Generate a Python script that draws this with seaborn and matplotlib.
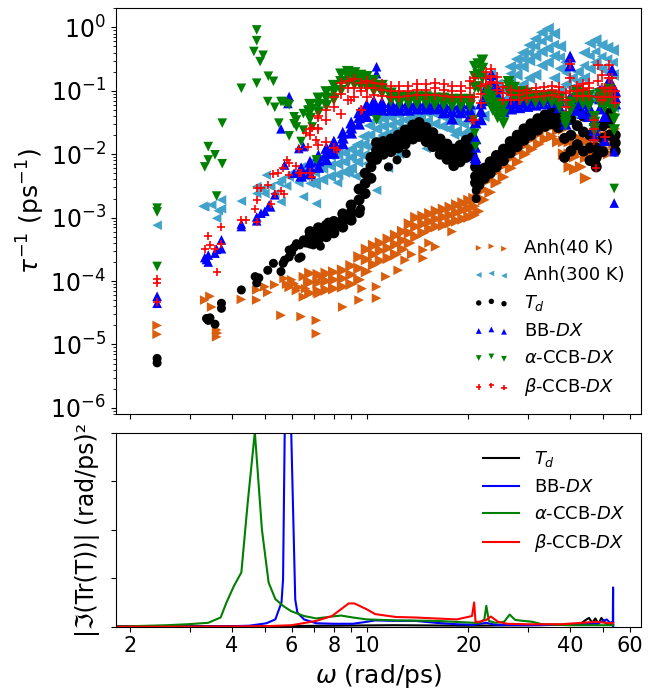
import warnings
import numpy as np
import pandas as pd
import matplotlib
matplotlib.use("Agg")
import matplotlib.pyplot as plt
import seaborn as sns
from matplotlib.ticker import FixedLocator, FixedFormatter, NullLocator, NullFormatter

warnings.filterwarnings("ignore")

# ---------------- top panel: scattering rates (log10 of tau^-1 in ps^-1) ----------------
# each series: a dense band (upper / middle / lower rows) + loose points

# Anh(40 K)
anh40_band_w = [6.8, 7.2, 7.6, 8.0, 8.5, 9.0, 9.5, 10.0, 10.5, 11.0, 11.6, 12.2, 12.8, 13.4, 14.0, 14.7,
                15.4, 16.1, 16.9, 17.7, 18.5, 19.3, 20.1, 20.8, 21.4, 22.2, 23.2, 24.2, 25.4, 26.7, 28.0,
                29.4, 30.8, 32.3, 33.8, 35.3, 36.8, 38.3, 39.8, 41.3, 43.0, 44.5, 46.2, 48.0, 50.0, 52.0, 54.0]
anh40_band_hi = [-3.88, -3.90, -3.88, -3.86, -3.83, -3.76, -3.62, -3.50, -3.44, -3.40, -3.34, -3.28, -3.22,
                 -3.10, -3.00, -2.98, -2.94, -2.90, -2.87, -2.84, -2.80, -2.77, -2.73, -2.70, -2.52, -2.40,
                 -2.22, -2.12, -2.02, -1.90, -1.80, -1.70, -1.62, -1.52, -1.46, -1.42, -1.46, -1.60, -1.80,
                 -1.84, -1.76, -1.80, -1.70, -1.62, -1.55, -1.50, -1.38]
anh40_band_mid = [-4.02, -4.02, -4.00, -3.98, -3.96, -3.90, -3.80, -3.66, -3.58, -3.52, -3.48, -3.42, -3.36,
                  -3.24, -3.14, -3.10, -3.06, -3.02, -2.99, -2.96, -2.92, -2.88, -2.85, -2.82, -2.70, -2.56,
                  -2.40, -2.28, -2.18, -2.06, -1.96, -1.86, -1.76, -1.68, -1.60, -1.56, -1.62, -1.80, -2.00,
                  -2.04, -1.96, -2.05, -1.85, -1.78, -1.70, -1.70, -1.60]
anh40_band_lo = [-4.19, -4.16, -4.14, -4.12, -4.09, -4.05, -3.98, -3.85, -3.74, -3.68, -3.64, -3.58, -3.50,
                 -3.40, -3.30, -3.24, -3.18, -3.14, -3.12, -3.08, -3.05, -3.02, -2.99, -2.96, -2.90, -2.72,
                 -2.60, -2.45, -2.36, -2.22, -2.12, -2.00, -1.92, -1.84, -1.76, -1.72, -1.80, -2.00, -2.20,
                 -2.24, -2.20, -2.38, -2.00, -1.96, -1.90, -1.99, -1.85]
anh40_w = [2.4, 2.4, 3.32, 3.44, 3.48, 3.60, 3.60, 3.62, 4.26, 4.73, 4.73, 5.0, 5.1, 5.35, 5.58, 5.7, 5.8,
           5.9, 6.0, 6.1, 6.2, 6.3, 6.4, 6.5, 6.5, 6.6, 6.7, 7.1, 7.1, 7.2, 7.4, 8.5, 9.5, 9.7, 10.7, 10.7,
           11.4, 12.4, 13.0, 13.6, 14.7, 14.7, 15.3, 16.0, 17.9]
anh40_r = [-4.70, -4.84, -4.30, -4.24, -4.41, -4.77, -4.88, -4.82, -4.29, -4.14, -4.30, -4.09, -4.18, -4.06,
           -4.54, -3.96, -4.05, -4.10, -3.98, -4.04, -4.15, -4.10, -4.56, -3.93, -4.25, -4.12, -4.00, -4.62,
           -4.83, -4.20, -3.93, -4.41, -4.30, -4.12, -4.27, -4.09, -3.93, -3.83, -3.67, -3.58, -3.64, -3.51,
           -3.40, -3.46, -3.22]

# Anh(300 K)
anh300_band_w = [7.0, 7.4, 7.8, 8.2, 8.6, 9.0, 9.4, 9.8, 10.2, 10.7, 11.2, 11.8, 12.4, 13.0, 13.7, 14.4,
                 15.1, 15.9, 16.7, 17.5, 18.4, 19.3, 20.2, 22.2, 23.2, 24.3, 25.4, 26.6, 27.8, 29.0, 30.3,
                 31.6, 33.0, 34.4, 35.9, 37.4, 38.9, 40.5, 42.2, 44.0, 45.8, 47.6, 49.6, 51.6, 53.6]
anh300_band_hi = [-2.10, -2.05, -2.02, -2.00, -1.98, -1.92, -1.85, -1.72, -1.55, -1.46, -1.44, -1.42, -1.38,
                  -1.34, -1.30, -1.26, -1.22, -1.22, -1.25, -1.28, -1.32, -1.36, -1.32, -0.95, -0.75, -0.90,
                  -1.00, -0.62, -0.50, -0.40, -0.28, -0.18, -0.08, -0.02, -0.10, -0.30, -0.55, -0.80, -0.70,
                  -0.40, -0.25, -0.20, -0.28, -0.32, -0.36]
anh300_band_mid = [-2.28, -2.22, -2.18, -2.15, -2.12, -2.05, -1.98, -1.85, -1.70, -1.60, -1.56, -1.54, -1.50,
                   -1.46, -1.42, -1.38, -1.35, -1.36, -1.40, -1.44, -1.48, -1.52, -1.48, -1.15, -0.95, -1.10,
                   -1.15, -0.85, -0.75, -0.62, -0.52, -0.45, -0.38, -0.33, -0.45, -0.65, -0.90, -1.10, -1.00,
                   -0.80, -0.65, -0.55, -0.65, -0.70, -0.75]
anh300_band_lo = [-2.45, -2.40, -2.35, -2.32, -2.28, -2.22, -2.12, -2.02, -1.88, -1.78, -1.70, -1.66, -1.62,
                  -1.58, -1.54, -1.50, -1.48, -1.52, -1.56, -1.60, -1.64, -1.68, -1.62, -1.40, -1.20, -1.30,
                  -1.30, -1.10, -1.00, -0.90, -0.80, -0.75, -0.60, -0.55, -0.80, -1.00, -1.20, -1.35, -1.30,
                  -1.20, -1.10, -1.00, -1.05, -1.15, -1.25]
anh300_w = [2.4, 3.28, 3.32, 3.48, 3.60, 3.64, 3.72, 3.72, 4.26, 4.73, 4.73, 4.9, 5.0, 5.05, 5.2, 5.35, 5.5,
            5.58, 5.6, 5.8, 5.9, 6.0, 6.2, 6.3, 6.4, 6.5, 6.6, 6.8, 7.1, 7.1, 8.2, 8.9, 9.3, 10.0, 10.7, 11.6,
            12.5, 15.0, 16.2, 18.2,
            26.6, 27.8, 29.0, 30.3, 31.6, 33.0, 34.4, 35.9, 37.4, 38.9, 40.5, 42.2, 44.0, 45.8, 47.6, 49.6,
            51.6, 53.6]
anh300_r = [-3.12, -2.82, -2.83, -2.80, -3.01, -2.89, -2.72, -2.86, -2.74, -2.51, -2.62, -2.55, -2.62, -2.33,
            -2.51, -2.62, -2.45, -2.75, -2.40, -2.50, -2.36, -2.30, -2.30, -2.45, -2.20, -2.67, -2.35, -2.46,
            -2.78, -2.49, -2.45, -2.30, -2.35, -2.15, -2.57, -2.22, -2.00, -1.91, -1.88, -1.70,
            -0.73, -0.62, -0.50, -0.40, -0.30, -0.22, -0.17, -0.27, -0.47, -0.72, -0.95, -0.85, -0.60, -0.45,
            -0.38, -0.46, -0.50, -0.55]

# T_d
td_band_w = [6.8, 7.2, 7.6, 8.0, 8.5, 9.0, 9.5, 9.9, 10.3, 10.7, 11.2, 11.8, 12.4, 13.0, 13.7, 14.3, 15.0,
             15.7, 16.5, 17.3, 18.1, 18.9, 19.7, 20.5, 21.0, 21.5, 22.3, 23.2, 24.2, 25.4, 26.6, 27.9, 29.2,
             30.6, 32.1, 33.7, 35.3, 36.9, 38.5, 40.2, 42.0, 43.8, 45.8, 47.8, 50.0, 52.2, 54.4]
td_band_hi = [-3.22, -3.16, -3.12, -3.06, -2.94, -2.80, -2.55, -2.30, -2.05, -1.82,
              -1.80, -1.76, -1.70, -1.62, -1.54, -1.50, -1.58, -1.66, -1.76, -1.84, -1.92, -1.86, -1.78, -1.74,
              -2.20, -2.32, -2.22, -2.12, -2.02, -1.92, -1.80, -1.70, -1.60, -1.52,
              -1.44, -1.38, -1.33, -1.36, -1.50, -1.45, -1.30, -1.40, -1.70, -1.90,
              -1.55, -1.35, -1.70]
td_band_mid = [-3.30, -3.24, -3.20, -3.14, -3.04, -2.92, -2.72, -2.46, -2.20, -1.94,
               -1.90, -1.86, -1.80, -1.72, -1.64, -1.60, -1.68, -1.76, -1.88, -1.96, -2.04, -1.98, -1.90, -1.86,
               -2.35, -2.40, -2.30, -2.20, -2.10, -2.00, -1.88, -1.78, -1.68, -1.60,
               -1.52, -1.46, -1.42, -1.46, -1.75, -1.70, -1.55, -1.65, -1.90, -2.05,
               -1.75, -1.50, -1.82]
td_band_lo = [-3.40, -3.34, -3.30, -3.24, -3.15, -3.04, -2.92, -2.62, -2.38, -2.08,
              -2.00, -1.96, -1.90, -1.84, -1.76, -1.72, -1.80, -1.88, -2.00, -2.08, -2.18, -2.12, -2.05, -2.02,
              -2.45, -2.48, -2.38, -2.30, -2.20, -2.10, -1.98, -1.88, -1.78, -1.70,
              -1.62, -1.56, -1.52, -1.58, -2.05, -1.95, -1.85, -1.95, -2.10, -2.20,
              -1.96, -1.70, -1.95]
td_w = [2.4, 2.4, 3.36, 3.40, 3.44, 3.56, 3.72, 3.72, 4.26, 4.68, 4.73, 4.80, 5.1, 5.3, 5.58, 5.66, 5.72,
        5.9, 5.9, 6.0, 6.1, 6.2, 6.3, 6.34, 6.4, 6.5, 6.6, 6.95, 7.3, 7.5, 7.7, 8.5, 9.6, 11.6, 12.3, 13.1,
        21.1, 21.1, 47.7, 54.0]
td_r = [-5.22, -5.29, -4.59, -4.62, -4.58, -4.68, -4.35, -4.43, -4.14, -3.93, -4.03, -3.95, -3.83, -3.72,
        -3.85, -3.72, -3.67, -3.51, -3.62, -3.55, -3.47, -3.41, -3.64, -3.43, -3.62, -3.35, -3.40, -3.43,
        -3.45, -3.15, -3.07, -3.09, -2.86, -2.20, -2.09, -1.99, -2.57, -2.70, -2.15, -1.83]

# BB-DX
bb_band_w = [6.4, 6.8, 7.2, 7.6, 8.0, 8.5, 9.0, 9.5, 10.0, 10.5, 11.1, 11.8, 12.5, 13.3, 14.1, 15.0, 15.9,
             16.9, 17.9, 19.0, 20.2, 21.0, 21.8, 22.6, 23.4, 24.3, 25.4, 26.8, 28.3, 29.9, 31.6, 33.4, 35.3,
             37.2, 38.8, 40.0, 41.8, 43.6, 45.5, 47.2, 49.0, 50.6, 52.0, 53.2, 54.4]
bb_band_hi = [-2.22, -2.12, -2.02, -1.90, -1.80, -1.66, -1.50, -1.34, -1.22, -1.16,
              -1.18, -1.18, -1.18, -1.16, -1.16, -1.16, -1.16, -1.18, -1.22, -1.18,
              -1.20, -1.50, -1.20, -0.95, -0.74, -0.95, -1.18, -1.14, -1.12, -1.10,
              -1.08, -1.06, -1.04, -1.08, -1.36, -0.46, -1.05, -1.05, -1.10, -1.46,
              -1.00, -1.10, -0.85, -0.67, -1.00]
bb_band_mid = [-2.28, -2.20, -2.10, -1.98, -1.88, -1.74, -1.58, -1.42, -1.30, -1.22,
               -1.24, -1.24, -1.24, -1.22, -1.22, -1.22, -1.22, -1.26, -1.32, -1.26,
               -1.30, -1.75, -1.32, -1.05, -0.85, -1.05, -1.24, -1.20, -1.18, -1.16,
               -1.14, -1.12, -1.10, -1.16, -1.44, -0.60, -1.15, -1.20, -1.25, -1.55,
               -1.12, -1.40, -1.00, -0.90, -1.10]
bb_band_lo = [-2.34, -2.30, -2.20, -2.08, -1.98, -1.83, -1.66, -1.52, -1.40, -1.30,
              -1.30, -1.30, -1.30, -1.30, -1.28, -1.28, -1.28, -1.34, -1.44, -1.34,
              -1.40, -2.05, -1.45, -1.15, -0.98, -1.18, -1.32, -1.28, -1.26, -1.24,
              -1.22, -1.20, -1.18, -1.26, -1.52, -1.10, -1.30, -1.35, -1.40, -1.62,
              -1.28, -1.78, -1.15, -1.10, -1.20]
bb_w = [2.4, 2.4, 3.32, 3.36, 3.40, 3.40, 3.56, 3.60, 3.72, 3.72, 4.26, 4.26, 4.73, 4.73, 4.87, 5.0, 5.15,
        5.2, 5.35, 5.58, 5.72, 5.85, 5.9, 6.1, 6.3, 6.5, 10.7, 10.7, 21.0, 21.1, 47.2, 54.0, 54.0]
bb_r = [-4.24, -4.35, -3.63, -3.66, -3.59, -3.70, -3.56, -3.50, -3.35, -3.49, -3.14, -3.10, -2.99, -3.05,
        -2.93, -2.90, -2.80, -2.83, -2.64, -1.60, -2.17, -1.20, -1.09, -2.30, -1.91, -1.88, -0.62, -0.73,
        -2.09, -1.90, -1.72, -1.96, -2.77]

# alpha-CCB-DX
accb_band_w = [6.8, 7.2, 7.6, 8.0, 8.4, 8.8, 9.2, 9.6, 10.0, 10.5, 11.1, 11.8, 12.5, 13.3, 14.1, 15.0, 15.9,
               16.9, 17.9, 19.0, 20.2, 20.9, 21.4, 22.0, 22.8, 23.6, 24.4, 25.4, 26.3, 27.3, 28.5, 29.9,
               31.6, 33.4, 35.3, 37.2, 38.8, 40.2, 41.8, 43.6, 45.5, 47.2, 49.0, 50.6, 52.2, 54.0]
accb_band_hi = [-1.22, -1.12, -1.02, -0.92, -0.74, -0.70, -0.72, -0.76, -0.78, -0.84,
                -0.92, -1.04, -1.10, -1.10, -1.10, -1.10, -1.12, -1.12, -1.14, -1.14,
                -1.14, -0.62, -0.58, -0.52, -1.00, -1.10, -1.20, -1.25, -0.86, -0.95,
                -1.02, -1.04, -1.08, -1.08, -1.08, -1.12, -1.41, -1.18, -1.00, -1.05,
                -1.08, -1.41, -1.05, -1.10, -0.98, -1.30]
accb_band_mid = [-1.32, -1.22, -1.12, -1.02, -0.86, -0.78, -0.80, -0.84, -0.86, -0.92,
                 -0.98, -1.10, -1.15, -1.15, -1.15, -1.15, -1.16, -1.17, -1.18, -1.19,
                 -1.19, -0.78, -0.75, -0.65, -1.08, -1.20, -1.30, -1.38, -0.92, -1.02,
                 -1.08, -1.10, -1.13, -1.13, -1.13, -1.18, -1.46, -1.24, -1.06, -1.12,
                 -1.16, -1.50, -1.12, -1.18, -1.08, -1.45]
accb_band_lo = [-1.44, -1.34, -1.24, -1.14, -1.00, -0.88, -0.90, -0.92, -0.94, -1.00,
                -1.04, -1.16, -1.20, -1.20, -1.20, -1.20, -1.22, -1.22, -1.24, -1.24,
                -1.24, -0.94, -0.95, -0.80, -1.15, -1.30, -1.42, -1.51, -1.00, -1.10,
                -1.14, -1.16, -1.18, -1.18, -1.18, -1.26, -1.51, -1.30, -1.12, -1.20,
                -1.24, -1.60, -1.20, -1.26, -1.20, -1.62]
accb_w = [2.4, 2.4, 2.4, 3.32, 3.40, 3.40, 3.56, 3.60, 3.74, 3.74, 4.26, 4.64, 4.73, 4.73, 4.73, 4.84, 4.94,
          5.12, 5.3, 5.1, 5.35, 5.5, 5.58, 5.66, 5.78, 5.9, 5.9, 6.1, 6.1, 6.2, 6.2, 6.4, 6.5, 6.5, 6.7, 6.9,
          6.9, 7.1, 10.7, 20.7, 20.9, 21.0, 38.8, 47.2, 54.0]
accb_r = [-2.85, -2.91, -3.77, -2.20, -1.88, -2.09, -2.01, -2.66, -2.15, -1.51, -0.96, -0.38, -0.04, -0.21,
          -0.88, -0.54, -0.44, -0.77, -0.85, -1.17, -1.26, -1.51, -1.17, -1.17, -1.20, -1.22, -1.71, -1.41,
          -1.52, -1.46, -1.57, -1.80, -1.36, -1.62, -1.31, -1.28, -1.57, -2.09, -1.46, -1.46, -1.67, -1.88,
          -1.55, -1.65, -2.54]

# beta-CCB-DX
bccb_band_w = [6.8, 7.2, 7.6, 8.0, 8.4, 8.8, 9.2, 9.6, 10.0, 10.5, 11.1, 11.8, 12.5, 13.3, 14.1, 15.0, 15.9,
               16.9, 17.9, 19.0, 20.2, 20.8, 21.8, 22.6, 23.4, 24.3, 25.4, 26.8, 28.3, 29.9, 31.6, 33.4,
               35.3, 37.2, 38.8, 40.0, 41.8, 43.6, 45.5, 47.2, 48.4, 49.6, 50.6, 52.0, 53.2, 54.4]
bccb_band_hi = [-1.60, -1.40, -1.30, -1.10, -0.88, -0.85, -0.82, -0.88, -0.85, -0.88,
                -0.90, -0.92, -0.92, -0.92, -0.90, -0.90, -0.88, -0.90, -0.92, -0.92,
                -0.84, -0.80, -0.92, -0.70, -0.66, -0.78, -0.94, -0.98, -1.00, -0.98,
                -0.96, -0.94, -0.92, -0.94, -1.04, -0.57, -0.92, -0.90, -0.88, -1.46,
                -0.60, -0.75, -0.95, -0.60, -0.80, -1.00]
bccb_band_mid = [-1.70, -1.60, -1.46, -1.25, -1.05, -0.95, -0.95, -1.00, -0.95, -0.96,
                 -0.98, -1.00, -1.00, -1.00, -0.98, -0.98, -0.96, -0.98, -1.00, -1.00,
                 -0.95, -1.10, -1.05, -0.80, -0.76, -0.88, -1.04, -1.06, -1.06, -1.04,
                 -1.02, -1.00, -0.98, -1.02, -1.14, -0.80, -1.00, -0.98, -0.96, -1.60,
                 -0.85, -0.95, -1.10, -0.80, -0.95, -1.10]
bccb_band_lo = [-2.30, -1.85, -1.80, -1.90, -1.36, -1.15, -1.10, -1.30, -1.10, -1.06,
                -1.08, -1.10, -1.10, -1.08, -1.06, -1.06, -1.06, -1.08, -1.10, -1.10,
                -1.10, -1.46, -1.20, -0.90, -0.86, -0.98, -1.15, -1.14, -1.14, -1.12,
                -1.10, -1.08, -1.06, -1.10, -1.25, -1.00, -1.08, -1.08, -1.08, -1.78,
                -1.10, -1.15, -1.73, -1.00, -1.10, -1.20]
bccb_w = [2.4, 2.4, 2.4, 3.32, 3.40, 3.44, 3.56, 3.60, 3.72, 3.72, 4.26, 4.4, 4.69, 4.73, 4.73, 4.73, 4.87,
          5.1, 5.2, 5.3, 5.35, 5.46, 5.58, 5.65, 5.7, 5.83, 5.9, 5.9, 6.2, 6.3, 6.3, 6.4, 6.6, 6.7, 6.9, 6.9,
          7.1, 7.2, 7.2, 8.2, 9.0, 9.7, 20.5, 47.7]
bccb_r = [-3.97, -4.03, -4.33, -3.49, -3.29, -3.43, -3.50, -3.85, -3.14, -3.42, -3.04, -3.04, -2.86, -2.72,
          -2.54, -3.07, -2.54, -2.49, -2.78, -2.31, -2.62, -2.30, -2.58, -2.22, -2.62, -2.09, -2.33, -2.14,
          -2.19, -1.91, -2.30, -2.30, -1.67, -1.88, -1.59, -2.36, -1.78, -1.43, -1.58, -1.94, -1.15, -1.30,
          -1.46, -2.22]

# ---------------- bottom panel: |Im(Tr(T))| (arb. units, 0..4 on the axis) ----------------
td_line_w = [1.8, 3.0, 5.0, 8.0, 12.0, 20.0, 30.0, 40.0, 43.0, 44.5, 45.5, 46.5, 47.5, 48.5, 49.5, 50.5,
             51.5, 52.5, 53.6]
td_line_v = [0.01, 0.01, 0.01, 0.02, 0.03, 0.02, 0.03, 0.04, 0.06, 0.14, 0.18, 0.08, 0.17, 0.06, 0.18, 0.10,
             0.05, 0.04, 0.03]
bb_line_w = [1.8, 3.0, 4.0, 4.5, 5.05, 5.37, 5.6, 5.66, 5.73, 5.85, 5.97, 6.15, 6.24, 6.53, 7.1, 8.0, 9.1,
             10.0, 10.6, 12.0, 13.9, 16.0, 18.5, 20.8, 22.6, 24.0, 30.0, 40.0, 48.0, 51.3, 52.5, 53.5,
             53.6, 53.65]
bb_line_v = [0.0, 0.0, 0.01, 0.02, 0.07, 0.15, 0.5, 0.98, 4.3, 12.0, 4.3, 0.56, 0.29, 0.15, 0.07, 0.06, 0.06,
             0.10, 0.13, 0.12, 0.12, 0.08, 0.05, 0.04, 0.08, 0.04, 0.03, 0.04, 0.06, 0.15, 0.08, 0.10,
             0.81, 0.0]
accb_line_w = [1.8, 2.56, 2.95, 3.4, 3.7, 3.85, 4.05, 4.26, 4.45, 4.67, 4.90, 5.13, 5.37, 5.66, 5.98, 6.53,
               7.1, 7.9, 8.4, 9.1, 10.0, 12.2, 16.0, 20.8, 21.6, 22.3, 22.6, 23.0, 24.0, 25.5, 26.5, 27.5,
               29.0, 31.0, 33.0, 40.0, 50.0, 53.6]
accb_line_v = [0.0, 0.03, 0.05, 0.08, 0.19, 0.50, 0.84, 1.12, 2.57, 4.02, 2.01, 0.91, 0.57, 0.43, 0.32, 0.22,
               0.17, 0.21, 0.23, 0.19, 0.15, 0.13, 0.12, 0.08, 0.08, 0.15, 0.43, 0.12, 0.08, 0.10, 0.25, 0.14,
               0.12, 0.10, 0.05, 0.03, 0.03, 0.03]
bccb_line_w = [1.8, 3.0, 5.0, 6.0, 7.1, 7.9, 8.4, 8.85, 9.2, 10.0, 10.6, 12.2, 13.9, 16.0, 18.5, 20.5, 20.8,
               21.0, 21.5, 22.6, 23.3, 24.5, 26.0, 30.0, 37.6, 43.3, 48.0, 51.0, 53.6]
bccb_line_v = [0.0, 0.0, 0.01, 0.03, 0.12, 0.22, 0.36, 0.48, 0.48, 0.36, 0.26, 0.20, 0.19, 0.17, 0.15, 0.22,
               0.50, 0.10, 0.10, 0.14, 0.21, 0.10, 0.06, 0.05, 0.05, 0.08, 0.10, 0.08, 0.07]

x_ticks = [2, 3, 4, 5, 6, 7, 8, 9, 10, 20, 30, 40, 50, 60]
x_ticklabels = ["2", "", "4", "", "6", "", "8", "", "10", "20", "", "40", "", "60"]


def rate_table(w, r):
    return pd.DataFrame({"omega": list(w), "rate": 10.0 ** np.array(r)})


scatter_series = [
    ("Anh(40 K)", anh40_band_w, [anh40_band_hi, anh40_band_mid, anh40_band_lo], anh40_w, anh40_r,
     "#d95f0e", ">"),
    ("Anh(300 K)", anh300_band_w, [anh300_band_hi, anh300_band_mid, anh300_band_lo], anh300_w, anh300_r,
     "#43a2ca", "<"),
    ("$T_d$", td_band_w, [td_band_hi, td_band_mid, td_band_lo], td_w, td_r,
     "black", "o"),
    ("BB-$DX$", bb_band_w, [bb_band_hi, bb_band_mid, bb_band_lo], bb_w, bb_r,
     "blue", "^"),
    (r"$\alpha$-CCB-$DX$", accb_band_w, [accb_band_hi, accb_band_mid, accb_band_lo], accb_w, accb_r,
     "green", "v"),
    (r"$\beta$-CCB-$DX$", bccb_band_w, [bccb_band_hi, bccb_band_mid, bccb_band_lo], bccb_w, bccb_r,
     "red", "+"),
]

line_series = [
    ("$T_d$", td_line_w, td_line_v, "black"),
    ("BB-$DX$", bb_line_w, bb_line_v, "blue"),
    (r"$\alpha$-CCB-$DX$", accb_line_w, accb_line_v, "green"),
    (r"$\beta$-CCB-$DX$", bccb_line_w, bccb_line_v, "red"),
]

fig = plt.figure(figsize=(6.54, 6.92), dpi=100)
ax1 = fig.add_axes([0.1769, 0.4017, 0.8028, 0.5863])
ax2 = fig.add_axes([0.1769, 0.0944, 0.8028, 0.2799])

for label, band_w, band_rows, loose_w, loose_r, color, marker in scatter_series:
    band = pd.concat([rate_table(band_w, row) for row in band_rows], ignore_index=True)
    loose = rate_table(loose_w, loose_r)
    if marker == "+":
        style = dict(marker=marker, color=color, linewidth=1.2)
        band_s, loose_s = 60, 40
    else:
        style = dict(marker=marker, color=color, linewidth=0, edgecolor="none")
        band_s, loose_s = (62, 42) if marker == "o" else (72, 48)
    sns.scatterplot(data=band, x="omega", y="rate", s=band_s, legend=False, ax=ax1, **style)
    sns.scatterplot(data=loose, x="omega", y="rate", s=loose_s, label=label, legend=False, ax=ax1, **style)

for label, w, v, color in line_series:
    sns.lineplot(x=w, y=v, color=color, label=label, estimator=None, linewidth=1.5,
                 legend=False, ax=ax2)

for ax in (ax1, ax2):
    ax.set_xscale("log")
    ax.set_xlim(1.81, 64.7)
    ax.xaxis.set_major_locator(FixedLocator(x_ticks))
    ax.xaxis.set_minor_locator(NullLocator())
    ax.tick_params(labelsize=15)

ax1.xaxis.set_major_formatter(NullFormatter())
ax2.xaxis.set_major_formatter(FixedFormatter(x_ticklabels))

ax1.set_yscale("log")
ax1.set_ylim(8e-7, 2)
ax1.tick_params(axis="y", labelsize=17)
ax1.set_xlabel("")
ax1.set_ylabel(r"$\tau^{-1}$ (ps$^{-1}$)", fontsize=18, labelpad=2)
ax1.legend(loc="lower right", frameon=False, scatterpoints=3, markerscale=0.6, fontsize=13)

ax2.set_ylim(0, 4)
ax2.set_yticks([0, 1, 2, 3, 4])
ax2.yaxis.set_major_formatter(NullFormatter())
ax2.set_xlabel(r"$\omega$ (rad/ps)", fontsize=18)
ax2.set_ylabel("|\u2111(Tr(T))| (rad/ps)\u00b2", fontsize=17)
ax2.legend(loc="upper right", frameon=False, fontsize=13)

fig.savefig("out.png", dpi=100)
